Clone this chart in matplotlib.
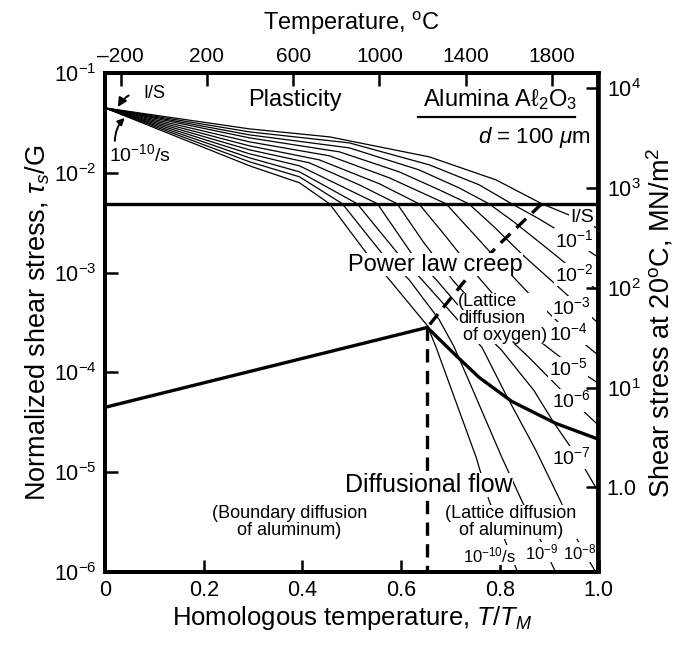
import numpy as np
import matplotlib
matplotlib.use("Agg")
import matplotlib.pyplot as plt
from matplotlib.ticker import FixedLocator, NullLocator

plt.rcParams["font.family"] = ["Liberation Sans", "DejaVu Sans"]
plt.rcParams["mathtext.fontset"] = "custom"
plt.rcParams["mathtext.rm"] = "Liberation Sans"
plt.rcParams["mathtext.it"] = "Liberation Sans:italic"
plt.rcParams["mathtext.bf"] = "Liberation Sans:bold"

# ===========================
# Data (T/TM, log10 tau/G)
# ===========================
TM_K = 2290.0          # melting point used for the top axis
G_20C = 1.42e5         # shear modulus at 20 C, MN/m^2 (right axis)

# strain-rate contours, 1/s ... 1e-10/s
x_r0 = [0, 0.293, 0.455, 0.657, 0.792, 0.885, 0.939, 1.0]
l_r0 = [-1.35, -1.56, -1.64, -1.84, -2.07, -2.31, -2.42, -2.56]

x_r1 = [0, 0.293, 0.495, 0.657, 0.758, 0.824, 0.879, 0.939, 1.0]
l_r1 = [-1.35, -1.59, -1.70, -1.92, -2.12, -2.31, -2.46, -2.64, -2.85]

x_r2 = [0, 0.293, 0.495, 0.636, 0.717, 0.778, 0.828, 0.889, 0.949, 1.0]
l_r2 = [-1.35, -1.62, -1.75, -1.97, -2.15, -2.31, -2.49, -2.73, -2.97, -3.19]

x_r3 = [0, 0.293, 0.475, 0.596, 0.677, 0.737, 0.788, 0.848, 0.909, 0.960, 1.0]
l_r3 = [-1.35, -1.65, -1.79, -1.99, -2.17, -2.31, -2.54, -2.83, -3.10, -3.33, -3.51]

x_r4 = [0, 0.293, 0.455, 0.576, 0.691, 0.741, 0.798, 0.859, 0.919, 1.0]
l_r4 = [-1.35, -1.69, -1.83, -2.05, -2.31, -2.58, -2.89, -3.21, -3.50, -3.83]

x_r5 = [0, 0.293, 0.434, 0.556, 0.636, 0.691, 0.747, 0.808, 0.879, 0.939, 1.0]
l_r5 = [-1.35, -1.73, -1.87, -2.11, -2.31, -2.64, -2.99, -3.34, -3.68, -3.91, -4.11]

x_r6 = [0, 0.293, 0.414, 0.515, 0.592, 0.646, 0.707, 0.778, 0.859, 0.929, 1.0]
l_r6 = [-1.35, -1.77, -1.90, -2.12, -2.31, -2.70, -3.09, -3.47, -3.85, -4.20, -4.53]

x_r7 = [0, 0.293, 0.394, 0.552, 0.620, 0.671, 0.737, 0.804, 0.869, 0.909, 0.966, 1.0]
l_r7 = [-1.35, -1.81, -1.93, -2.31, -2.80, -3.07, -3.45, -3.78, -4.18, -4.50, -4.91, -5.20]

x_r8 = [0, 0.293, 0.394, 0.511, 0.592, 0.642, 0.707, 0.764, 0.810, 0.873, 0.925, 0.954, 0.994]
l_r8 = [-1.35, -1.85, -1.99, -2.31, -2.80, -3.07, -3.43, -3.75, -4.20, -4.78, -5.31, -5.65, -6.0]

x_r9 = [0, 0.293, 0.394, 0.481, 0.560, 0.616, 0.677, 0.707, 0.737, 0.804, 0.844, 0.913]
l_r9 = [-1.35, -1.89, -2.04, -2.31, -2.80, -3.07, -3.47, -3.74, -4.08, -4.85, -5.28, -6.0]

x_r10 = [0, 0.293, 0.394, 0.455, 0.529, 0.576, 0.653, 0.671, 0.752, 0.778, 0.836]
l_r10 = [-1.35, -1.93, -2.10, -2.31, -2.80, -3.07, -3.53, -3.75, -4.85, -5.28, -6.0]

contours = [(x_r0, l_r0), (x_r1, l_r1), (x_r2, l_r2), (x_r3, l_r3), (x_r4, l_r4),
            (x_r5, l_r5), (x_r6, l_r6), (x_r7, l_r7), (x_r8, l_r8), (x_r9, l_r9),
            (x_r10, l_r10)]

# field boundaries
plast_level = -2.31
x_bnd_left = [0, 0.653]
l_bnd_left = [-4.35, -3.55]
x_bnd_curve = [0.653, 0.711, 0.758, 0.824, 0.913, 1.0]
l_bnd_curve = [-3.55, -3.83, -4.05, -4.29, -4.51, -4.67]
x_bnd_dash = [0.885, 0.798, 0.731, 0.653]
l_bnd_dash = [-2.31, -2.72, -3.07, -3.55]
x_bnd_vert = [0.653, 0.653]
l_bnd_vert = [-3.55, -6.0]

# contour labels (text, anchor in T/TM, log10 tau/G, alignment)
rate_labels = ["I/S", r"$10^{-1}$", r"$10^{-2}$", r"$10^{-3}$", r"$10^{-4}$",
               r"$10^{-5}$", r"$10^{-6}$", r"$10^{-7}$", r"$10^{-8}$",
               r"$10^{-9}$", r"$10^{-10}$/s"]
rate_label_x = [0.99, 0.99, 0.99, 0.985, 0.978, 0.978, 0.985, 0.985, 0.995, 0.885, 0.78]
rate_label_l = [-2.45, -2.67, -3.02, -3.35, -3.61, -3.96, -4.28, -4.85, -5.80, -5.80, -5.83]
rate_label_ha = ["right"] * 9 + ["center", "center"]

fontsize = 15

# ===========================
# Figure
# ===========================
fig = plt.figure(figsize=(6.84, 6.45), dpi=100)
ax = fig.add_axes([0.1535, 0.1132, 0.7215, 0.7736])
ax.set_yscale("log")
ax.set_xlim(0, 1)
ax.set_ylim(1e-6, 1e-1)

thin = dict(color="black", lw=0.9, zorder=2)
thick = dict(color="black", lw=2.4, zorder=3)

for xs, ls in contours:
    ax.plot(xs, 10 ** np.asarray(ls), **thin)

ax.plot([0, 1], [10 ** plast_level] * 2, **thick)
ax.plot(x_bnd_left, 10 ** np.asarray(l_bnd_left), **thick)
ax.plot(x_bnd_curve, 10 ** np.asarray(l_bnd_curve), **thick)
ax.plot(x_bnd_dash, 10 ** np.asarray(l_bnd_dash), dashes=(4, 2.5), **thick)
ax.plot(x_bnd_vert, 10 ** np.asarray(l_bnd_vert), dashes=(4, 2.5), **thick)

box = dict(fc="white", ec="none", pad=0.4)
for i, (txt, xt, lt, ha) in enumerate(zip(rate_labels, rate_label_x, rate_label_l,
                                          rate_label_ha)):
    fs = fontsize - 1 if i < 8 else fontsize - 3
    ax.text(xt, 10 ** lt, txt, ha=ha, va="center", fontsize=fs, bbox=box, zorder=4)

# field names
ax.text(0.384, 10 ** -1.27, "Plasticity", ha="center", va="center", fontsize=fontsize + 2)
ax.text(0.80, 10 ** -1.27, "Alumina A\u2113$_2$O$_3$", ha="center", va="center",
        fontsize=fontsize + 2)
underline_x = [0.635, 0.952]
underline_l = -1.44
ax.plot(underline_x, [10 ** underline_l] * 2, color="black", lw=1.6)
ax.text(0.87, 10 ** -1.65, r"$d$ = 100 $\mu$m", ha="center", va="center",
        fontsize=fontsize + 1)
ax.text(0.669, 10 ** -2.92, "Power law creep", ha="center", va="center",
        fontsize=fontsize + 2, bbox=dict(fc="white", ec="none", pad=0.1), zorder=4)
ax.text(0.715, 10 ** -3.46, "(Lattice\ndiffusion\n of oxygen)", ha="left", va="center",
        fontsize=fontsize - 2, linespacing=1.0,
        bbox=dict(fc="white", ec="none", pad=0.1), zorder=4)
ax.text(0.657, 10 ** -5.13, "Diffusional flow", ha="center", va="center",
        fontsize=fontsize + 3, bbox=dict(fc="white", ec="none", pad=0.2), zorder=4)
ax.text(0.374, 10 ** -5.50, "(Boundary diffusion\nof aluminum)", ha="center", va="center",
        fontsize=fontsize - 2, linespacing=1.0)
ax.text(0.822, 10 ** -5.50, "(Lattice diffusion\nof aluminum)", ha="center", va="center",
        fontsize=fontsize - 2, linespacing=1.0,
        bbox=dict(fc="white", ec="none", pad=0.2), zorder=4)

# top-left arrows
ax.annotate("I/S", xy=(0.026, 10 ** -1.34), xytext=(0.10, 10 ** -1.21),
            ha="center", va="center", fontsize=fontsize - 2,
            arrowprops=dict(arrowstyle="-|>", color="black", lw=1.4,
                            connectionstyle="arc3,rad=0.4", shrinkA=9, shrinkB=0))
ax.annotate("", xy=(0.04, 10 ** -1.45), xytext=(0.02, 10 ** -1.68),
            arrowprops=dict(arrowstyle="-|>", color="black", lw=1.4,
                            connectionstyle="arc3,rad=-0.2", shrinkA=0, shrinkB=0))
ax.text(0.07, 10 ** -1.81, r"$10^{-10}$/s", ha="center", va="center", fontsize=fontsize - 1)

# ===========================
# Axes styling
# ===========================
ax.set_xticks([0, 0.2, 0.4, 0.6, 0.8, 1.0])
ax.set_xticklabels(["0", "0.2", "0.4", "0.6", "0.8", "1.0"])
ax.yaxis.set_major_locator(FixedLocator([1e-6, 1e-5, 1e-4, 1e-3, 1e-2, 1e-1]))
ax.yaxis.set_minor_locator(NullLocator())
ax.set_yticklabels([r"$10^{-6}$", r"$10^{-5}$", r"$10^{-4}$", r"$10^{-3}$",
                    r"$10^{-2}$", r"$10^{-1}$"])
ax.tick_params(direction="in", length=9, width=1.8, labelsize=fontsize + 0.5, pad=6)
ax.set_xlabel(r"Homologous temperature, $T/T_M$", fontsize=fontsize + 3.5, labelpad=2)
ax.set_ylabel(r"Normalized shear stress, $\tau_s$/G", fontsize=fontsize + 4.5, labelpad=1)

ax_r = ax.twinx()
ax_r.set_yscale("log")
ax_r.set_ylim(1e-6 * G_20C, 1e-1 * G_20C)
ax_r.yaxis.set_major_locator(FixedLocator([1, 10, 100, 1000, 10000]))
ax_r.yaxis.set_minor_locator(NullLocator())
ax_r.set_yticklabels(["1.0", r"$10^1$", r"$10^2$", r"$10^3$", r"$10^4$"])
ax_r.tick_params(direction="in", length=9, width=1.8, labelsize=fontsize + 0.5, pad=6)
ax_r.set_ylabel(r"Shear stress at 20$^{\rm o}$C, MN/m$^2$", fontsize=fontsize + 4.5,
                labelpad=3)

ax_t = ax.twiny()
ax_t.set_xlim(-273, TM_K - 273)
ax_t.set_xticks([-200, 200, 600, 1000, 1400, 1800])
ax_t.set_xticklabels(["\u2013200", "200", "600", "1000", "1400", "1800"])
ax_t.tick_params(direction="in", length=9, width=1.8, labelsize=fontsize, pad=5)
ax_t.set_xlabel(r"Temperature, $^{\rm o}$C", fontsize=fontsize + 2, labelpad=12)

for a in (ax, ax_r, ax_t):
    for s in a.spines.values():
        s.set_linewidth(2.6)

fig.savefig("out.png", dpi=100)
